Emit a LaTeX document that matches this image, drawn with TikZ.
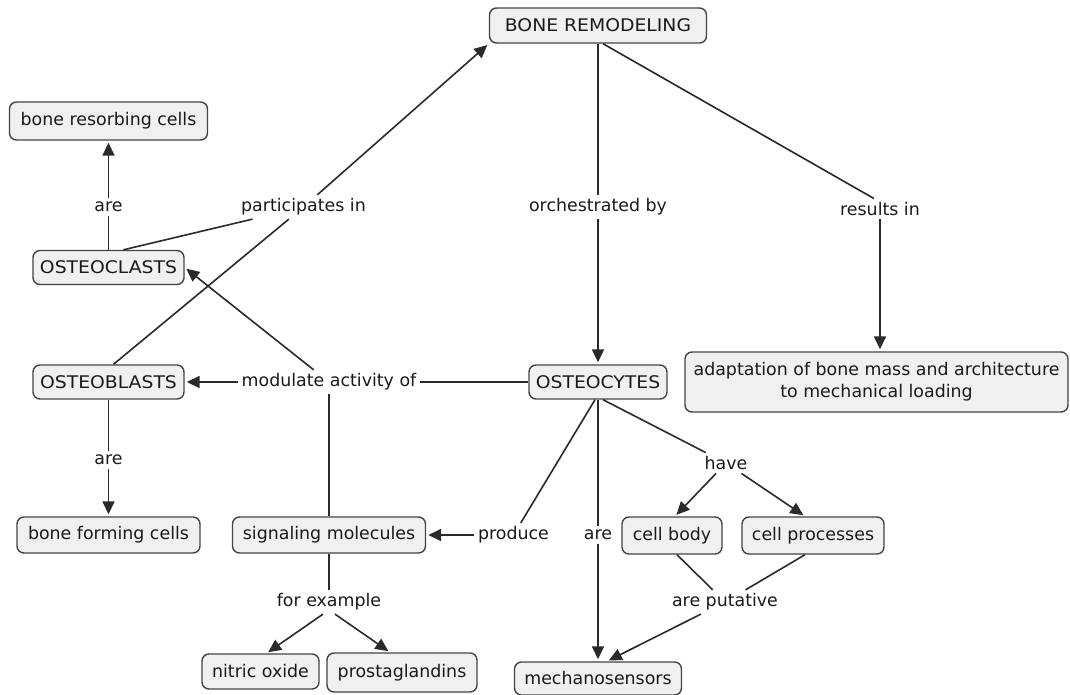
\documentclass[tikz,border=0pt]{standalone}
\usepackage{fontspec}
\setmainfont{DejaVu Sans}
\newfontfamily\capsfont[FakeStretch=1.08]{DejaVu Sans}
\usetikzlibrary{arrows.meta}
\definecolor{boxfill}{HTML}{F0F0F0}
\definecolor{boxline}{HTML}{444444}
\definecolor{linkcol}{HTML}{2A2A2A}
\definecolor{txt}{HTML}{1A1A1A}
\tikzset{
  cbox/.style={draw=boxline, fill=boxfill, rounded corners=7pt, line width=1.4pt,
    inner sep=0pt, minimum height=36pt, align=center, text=txt,
    font=\fontsize{17.4}{22}\selectfont},
  capsbox/.style={cbox, font=\capsfont\fontsize{17.4}{22}\selectfont},
  lbl/.style={inner sep=3.5pt, text=txt, font=\fontsize{17.4}{22}\selectfont},
  link/.style={draw=linkcol, line width=1.6pt},
  arr/.style={link, shorten >=2pt, -{Triangle[length=13pt,width=12pt]}}
}
\begin{document}
\begin{tikzpicture}[x=1pt,y=-1pt]
\fill[white] (0,0) rectangle (1070,695);
\useasboundingbox (0,0) rectangle (1070,695);
% concepts
\node[capsbox, minimum width=217pt, minimum height=35pt] (bonerem) at (598,25.5) {BONE REMODELING};
\node[cbox, minimum width=198pt, minimum height=38pt] (resorb) at (108.5,121) {bone resorbing cells};
\node[capsbox, minimum width=151pt, minimum height=34pt] (oclasts) at (108.5,267.5) {OSTEOCLASTS};
\node[capsbox, minimum width=151pt, minimum height=34pt] (oblasts) at (108.5,382) {OSTEOBLASTS};
\node[cbox, minimum width=183pt] (forming) at (108.5,535) {bone forming cells};
\node[cbox, minimum width=193pt] (signal) at (329,535) {signaling molecules};
\node[cbox, minimum width=117pt, minimum height=35pt] (nitric) at (260.5,671.5) {nitric oxide};
\node[cbox, minimum width=150pt, minimum height=39pt] (prosta) at (402,672.5) {prostaglandins};
\node[capsbox, minimum width=138pt, minimum height=34pt] (ocytes) at (598,382) {OSTEOCYTES};
\node[cbox, minimum width=383pt, minimum height=60pt] (adapt) at (876.5,382) {adaptation of bone mass and architecture\\to mechanical loading};
\node[cbox, minimum width=100pt, minimum height=37pt] (cellbody) at (672,535.5) {cell body};
\node[cbox, minimum width=142pt, minimum height=37pt] (cellproc) at (813,535.5) {cell processes};
\node[cbox, minimum width=167pt, minimum height=33pt] (mech) at (598,678.5) {mechanosensors};
% linking phrases
\node[lbl] (are1) at (108.5,207) {are};
\node[lbl] (part) at (303.5,207) {participates in};
\node[lbl] (orch) at (598,207) {orchestrated by};
\node[lbl] (results) at (880,209) {results in};
\node[lbl] (mod) at (329,382) {modulate activity of};
\node[lbl] (are2) at (108.5,460) {are};
\node[lbl] (have) at (726,463) {have};
\node[lbl] (produce) at (513.5,535) {produce};
\node[lbl] (are3) at (598,535) {are};
\node[lbl] (forex) at (329,602) {for example};
\node[lbl] (put) at (725,602) {are putative};
% connections
\draw[link] (oclasts) -- (are1);
\draw[arr] (are1) -- (resorb);
\draw[link] ([xshift=15pt]oclasts.north) -- (part);
\draw[link] ([xshift=5pt]oblasts.north) -- (part);
\draw[arr] (part) -- (bonerem.south west);
\draw[link] (bonerem) -- (orch);
\draw[arr] (orch) -- (ocytes);
\draw[link] ([xshift=5pt]bonerem.south) -- ([xshift=-6pt]results.north);
\draw[arr] (results) -- (results |- adapt.north);
\draw[link] (ocytes) -- (mod);
\draw[arr] (mod) -- (oblasts);
\draw[arr] (mod) -- (oclasts.east);
\draw[link] (signal) -- (mod);
\draw[link] (oblasts) -- (are2);
\draw[arr] (are2) -- (forming);
\draw[link] ([xshift=-3pt]ocytes.south) -- (produce);
\draw[arr] (produce) -- (signal);
\draw[link] (ocytes) -- (are3);
\draw[arr] (are3) -- (mech);
\draw[link] ([xshift=5pt]ocytes.south) -- (have);
\draw[arr] (have) -- ([xshift=3pt]cellbody.north);
\draw[arr] (have) -- ([xshift=-8pt]cellproc.north);
\draw[link] ([xshift=5pt]cellbody.south) -- (put);
\draw[link] ([xshift=-8pt]cellproc.south) -- (put);
\draw[arr] (put) -- ([xshift=9pt]mech.north);
\draw[link] (signal) -- (forex);
\draw[arr] ([xshift=-6pt]forex.south) -- ([xshift=6pt]nitric.north);
\draw[arr] ([xshift=6pt]forex.south) -- ([xshift=-12pt]prosta.north);
\end{tikzpicture}
\end{document}
